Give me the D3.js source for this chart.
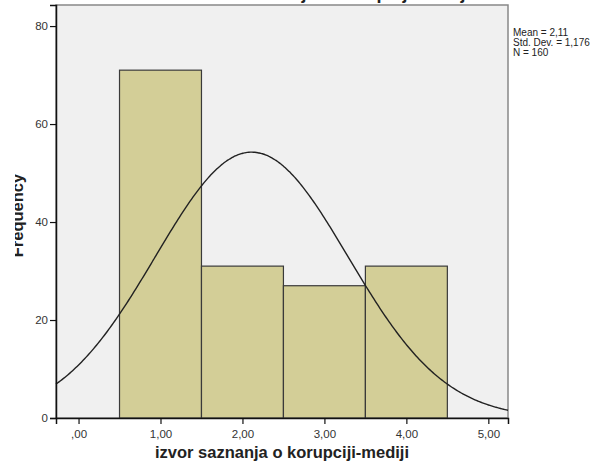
<!DOCTYPE html>
<html>
<head>
<meta charset="utf-8">
<script src="https://cdn.jsdelivr.net/npm/d3@7"></script>
<style>
  body { margin: 0; background: #fff; }
  svg { display: block; font-family: Arial, "Liberation Sans", sans-serif; }
</style>
</head>
<body>
<svg id="chart" width="608" height="465"></svg>
<script>
// ---- data ----
const binStarts = [0.5, 1.5, 2.5, 3.5];
const binEnds   = [1.5, 2.5, 3.5, 4.5];
const frequencies = [71, 31, 27, 31];
const xTickValues = [0, 1, 2, 3, 4, 5];
const xTickLabels = [",00", "1,00", "2,00", "3,00", "4,00", "5,00"];
const yTickValues = [0, 20, 40, 60, 80];
const statsLabels = ["Mean = 2,11", "Std. Dev. = 1,176", "N = 160"];
const statsValues = [2.1125, 1.1762, 160]; // mean, sd, n
const titleText = "izvor saznanja o korupciji-mediji";
const xAxisTitle = "izvor saznanja o korupciji-mediji";
const yAxisTitle = "Frequency";

// ---- layout ----
const L = 56, R = 508, T = 5, B = 418;
const svg = d3.select("#chart");

const x = d3.scaleLinear().domain([-0.275, 5.24]).range([L, R]);
const y = d3.scaleLinear().domain([0, 84.3]).range([B, T]);

// title (clipped at the top, as in the reference)
svg.append("text")
  .attr("x", 332).attr("y", -1)
  .attr("text-anchor", "middle")
  .attr("font-size", 18).attr("font-weight", "bold")
  .attr("fill", "#222")
  .text(titleText);

// plot background
svg.append("rect")
  .attr("x", L).attr("y", T).attr("width", R - L).attr("height", B - T)
  .attr("fill", "#f0f0f0").attr("stroke", "#888").attr("stroke-width", 1.5);

// bars
const bins = frequencies.map((f, i) => ({ x0: binStarts[i], x1: binEnds[i], f }));
svg.append("g").selectAll("rect").data(bins).join("rect")
  .attr("x", d => x(d.x0))
  .attr("y", d => y(d.f))
  .attr("width", d => x(d.x1) - x(d.x0))
  .attr("height", d => y(0) - y(d.f))
  .attr("fill", "#d3ce97")
  .attr("stroke", "#3a3a3a").attr("stroke-width", 1.2);

// normal curve from mean / sd / n (bin width 1)
const [mu, sd, n] = statsValues;
const binWidth = binEnds[0] - binStarts[0];
const dom = x.domain();
const xs = d3.range(dom[0], dom[1] + 0.001, (dom[1] - dom[0]) / 300);
const dens = v => n * binWidth / (sd * Math.sqrt(2 * Math.PI)) * Math.exp(-0.5 * ((v - mu) / sd) ** 2);
svg.append("path")
  .datum(xs)
  .attr("fill", "none").attr("stroke", "#222").attr("stroke-width", 1.4)
  .attr("d", d3.line().x(v => x(v)).y(v => y(dens(v))).curve(d3.curveBasis));

// axes
const yAxis = svg.append("g").attr("transform", `translate(${L},0)`)
  .call(d3.axisLeft(y).tickValues(yTickValues).tickSize(6).tickPadding(2).tickFormat(d3.format("d")));
const xAxis = svg.append("g").attr("transform", `translate(0,${B})`)
  .call(d3.axisBottom(x).tickValues(xTickValues).tickSize(6).tickPadding(6)
    .tickFormat((d, i) => xTickLabels[i]));
[yAxis, xAxis].forEach(g => {
  g.select(".domain").attr("stroke", "#111").attr("stroke-width", 1.5);
  g.selectAll(".tick line").attr("stroke", "#111").attr("stroke-width", 1.2);
  g.selectAll(".tick text").attr("fill", "#333").attr("font-size", 11.5)
    .attr("font-family", "Arial, 'Liberation Sans', sans-serif");
});

// axis titles
svg.append("text")
  .attr("x", (L + R) / 2).attr("y", 458)
  .attr("text-anchor", "middle")
  .attr("font-size", 16.5).attr("font-weight", "bold").attr("fill", "#222")
  .text(xAxisTitle);

svg.append("text")
  .attr("transform", `translate(23,${(T + B) / 2 + 4}) rotate(-90)`)
  .attr("text-anchor", "middle")
  .attr("font-size", 16.5).attr("font-weight", "bold").attr("fill", "#222")
  .text(yAxisTitle);
// white mask reproducing the clipped left edge of the reference
svg.append("rect").attr("x", 0).attr("y", 150).attr("width", 15).attr("height", 130).attr("fill", "#fff");

// stats box text
svg.append("g").selectAll("text").data(statsLabels).join("text")
  .attr("x", 513).attr("y", (d, i) => 36 + i * 10)
  .attr("font-size", 10).attr("fill", "#222")
  .text(d => d);
</script>
</body>
</html>
